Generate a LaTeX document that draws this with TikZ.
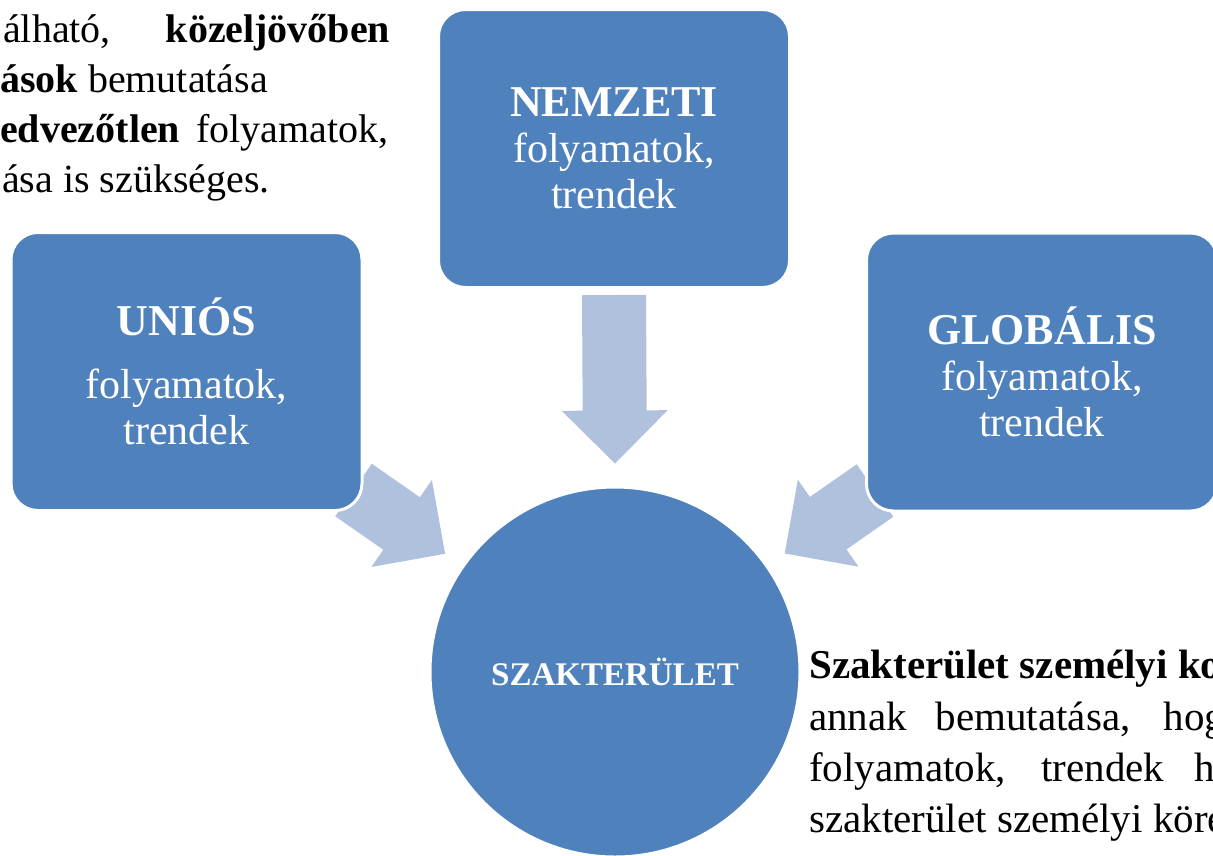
\documentclass[tikz,border=0pt]{standalone}
\usepackage{fontspec}
\setmainfont{Liberation Serif}
\usetikzlibrary{calc,backgrounds}
\definecolor{boxblue}{RGB}{79,129,189}
\definecolor{arrowblue}{RGB}{176,193,222}
\newcommand{\trendhead}{\fontsize{44}{46}\selectfont\bfseries}

\begin{document}
\begin{tikzpicture}[x=1pt,y=-1pt]
		\useasboundingbox (0,0) rectangle (1213,855);
		\clip (0,0) rectangle (1213,855);
		\tikzset{trendbox/.style={rectangle,rounded corners=27pt,fill=boxblue,draw=white,line width=3pt,minimum width=351pt,minimum height=278pt,text=white,align=center,font=\fontsize{42}{46}\selectfont}}
		\tikzset{bodytext/.style={anchor=base west,inner sep=0pt,font=\fontsize{40}{48}\selectfont}}
		\node[trendbox] (nemzeti) at (614,148.5) {{\trendhead NEMZETI}\\folyamatok,\\trendek}; %three sources
		\node[trendbox] (unios) at (186.5,371.5) {{\trendhead UNIÓS}\\[17pt]folyamatok,\\trendek};
		\node[trendbox] (globalis) at (1042,372) {{\trendhead GLOBÁLIS}\\folyamatok,\\trendek};
		\node[circle,fill=boxblue,draw=white,line width=3pt,minimum size=370pt,inner sep=0pt,text=white,font=\fontsize{33}{36}\selectfont\bfseries] (szakterulet) at (615,672) {SZAKTERÜLET}; %target circle
		\begin{pgfonlayer}{background}
		\coordinate (nb) at ($(nemzeti.south)+(0,6)$); %arrow ends
		\coordinate (nt) at ($(szakterulet.north)+(0,-22)$);
		\coordinate (ub) at ($(unios.south east)+(-10,-22)$);
		\coordinate (ut) at ($(szakterulet.center)!207pt!(ub)$);
		\coordinate (gb) at ($(globalis.south west)+(10,-22)$);
		\coordinate (gt) at ($(szakterulet.center)!207pt!(gb)$);
		\foreach \from/\to in {nb/nt,ub/ut,gb/gt}{ % block arrows
			\coordinate (\from-h) at ($(\to)!53pt!(\from)$);
			\fill[arrowblue] ($(\from)!32pt!90:(\to)$) -- ($(\from-h)!32pt!90:(\to)$) -- ($(\from-h)!53pt!90:(\to)$) -- (\to) -- ($(\from-h)!53pt!-90:(\to)$) -- ($(\from-h)!32pt!-90:(\to)$) -- ($(\from)!32pt!-90:(\to)$) -- cycle;
		}
		\end{pgfonlayer}
		\node[bodytext] (tl1) at (3,42) {\makebox[387pt][s]{álható, \textbf{közeljövőben}}}; %text top left
		\node[bodytext] (tl2) at (0,92) {\textbf{ások} bemutatása};
		\node[bodytext] (tl3) at (0,142) {\makebox[388pt][s]{\textbf{edvezőtlen} folyamatok,}};
		\node[bodytext] (tl4) at (2,192) {ása is szükséges.};
		\tikzset{bodytext/.append style={font=\fontsize{41}{49}\selectfont}}
		\node[bodytext] (br1) at (809,678) {\textbf{Szakterület személyi ko}}; %text bottom right
		\node[bodytext] (br2) at (809,730) {\makebox[416pt][s]{annak bemutatása, hog}};
		\node[bodytext] (br3) at (809,781) {\makebox[406pt][s]{folyamatok, trendek h}};
		\node[bodytext] (br4) at (809,832) {szakterület személyi köré};
	\end{tikzpicture}
\end{document}
